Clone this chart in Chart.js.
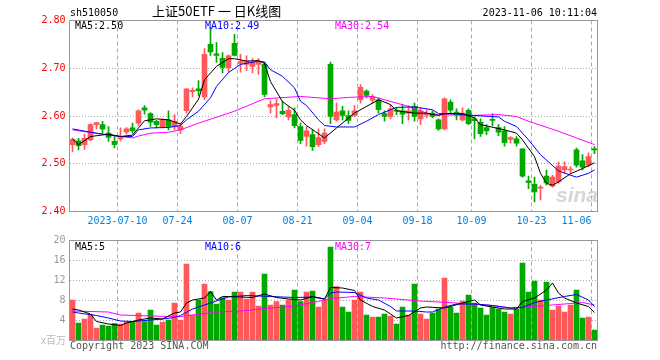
<!DOCTYPE html>
<html>
<head>
<meta charset="utf-8">
<script src="https://cdn.jsdelivr.net/npm/chart.js@4"></script>
<style>
  html, body { margin: 0; padding: 0; background: #fff; }
  #wrap { position: relative; width: 660px; height: 360px; overflow: hidden; }
  #k { position: absolute; left: 0; top: 0; }
  #v { position: absolute; left: 0; top: 230px; }
</style>
</head>
<body>
<div id="wrap">
  <canvas id="k" width="660" height="230"></canvas>
  <canvas id="v" width="660" height="130"></canvas>
</div>
<script>
// 交易日 (2023)
const dates = [
  "06-28","06-29","06-30","07-03","07-04","07-05","07-06","07-07","07-10","07-11",
  "07-12","07-13","07-14","07-17","07-18","07-19","07-20","07-21","07-24","07-25",
  "07-26","07-27","07-28","07-31","08-01","08-02","08-03","08-04","08-07","08-08",
  "08-09","08-10","08-11","08-14","08-15","08-16","08-17","08-18","08-21","08-22",
  "08-23","08-24","08-25","08-28","08-29","08-30","08-31","09-01","09-04","09-05",
  "09-06","09-07","09-08","09-11","09-12","09-13","09-14","09-15","09-18","09-19",
  "09-20","09-21","09-22","09-25","09-26","09-27","09-28","10-09","10-10","10-11",
  "10-12","10-13","10-16","10-17","10-18","10-19","10-20","10-23","10-24","10-25",
  "10-26","10-27","10-30","10-31","11-01","11-02","11-03","11-06"
];
const tickDates = ["07-10", "07-24", "08-07", "08-21", "09-04", "09-18", "10-09", "10-23", "11-06"];

const openP = [
  2.540,2.548,2.540,2.550,2.582,2.582,2.564,2.547,2.552,2.566,
  2.575,2.585,2.617,2.605,2.589,2.577,2.592,2.578,2.571,2.611,
  2.651,2.657,2.640,2.750,2.730,2.721,2.701,2.752,2.710,2.708,
  2.704,2.708,2.708,2.619,2.622,2.610,2.598,2.603,2.578,2.557,
  2.561,2.540,2.547,2.708,2.592,2.611,2.601,2.601,2.634,2.652,
  2.633,2.634,2.605,2.599,2.612,2.611,2.606,2.620,2.594,2.602,
  2.606,2.592,2.573,2.629,2.608,2.592,2.612,2.594,2.587,2.576,
  2.593,2.576,2.569,2.551,2.552,2.531,2.464,2.457,2.449,2.474,
  2.453,2.462,2.487,2.487,2.529,2.506,2.497,2.530
];
const highP = [
  2.554,2.553,2.562,2.584,2.587,2.589,2.578,2.557,2.575,2.576,
  2.585,2.613,2.622,2.607,2.591,2.594,2.611,2.603,2.585,2.657,
  2.659,2.674,2.741,2.785,2.754,2.733,2.728,2.771,2.729,2.726,
  2.720,2.720,2.713,2.632,2.635,2.631,2.619,2.617,2.585,2.578,
  2.571,2.573,2.573,2.713,2.627,2.620,2.611,2.622,2.666,2.655,
  2.645,2.638,2.611,2.624,2.618,2.624,2.622,2.627,2.617,2.613,
  2.611,2.594,2.638,2.634,2.615,2.617,2.615,2.599,2.594,2.582,
  2.605,2.582,2.578,2.557,2.557,2.531,2.474,2.472,2.455,2.487,
  2.476,2.504,2.504,2.494,2.533,2.519,2.523,2.536
];
const lowP = [
  2.525,2.529,2.530,2.548,2.573,2.564,2.547,2.533,2.548,2.562,
  2.564,2.580,2.604,2.578,2.575,2.575,2.571,2.571,2.563,2.606,
  2.640,2.643,2.634,2.727,2.712,2.690,2.692,2.726,2.692,2.695,
  2.690,2.687,2.640,2.606,2.596,2.603,2.592,2.575,2.542,2.537,
  2.528,2.536,2.542,2.584,2.589,2.592,2.584,2.599,2.627,2.638,
  2.626,2.606,2.589,2.594,2.603,2.584,2.592,2.589,2.582,2.596,
  2.596,2.570,2.571,2.606,2.592,2.589,2.582,2.552,2.557,2.561,
  2.580,2.559,2.537,2.543,2.537,2.472,2.448,2.420,2.424,2.455,
  2.451,2.459,2.480,2.479,2.493,2.487,2.494,2.521
];
const closeP = [
  2.551,2.538,2.553,2.582,2.586,2.573,2.555,2.540,2.555,2.573,
  2.569,2.611,2.612,2.587,2.582,2.592,2.578,2.589,2.578,2.657,
  2.654,2.653,2.729,2.734,2.727,2.702,2.726,2.727,2.714,2.715,
  2.713,2.713,2.645,2.624,2.626,2.605,2.612,2.580,2.549,2.569,
  2.536,2.555,2.564,2.599,2.608,2.601,2.591,2.611,2.660,2.643,
  2.640,2.613,2.599,2.615,2.610,2.604,2.611,2.599,2.611,2.605,
  2.599,2.573,2.636,2.612,2.603,2.606,2.584,2.590,2.563,2.569,
  2.591,2.566,2.544,2.555,2.543,2.474,2.461,2.441,2.451,2.460,
  2.472,2.495,2.494,2.489,2.497,2.493,2.515,2.529
];
// 成交量 (x百万)
const volume = [
  8.1,3.5,4.3,5.2,2.5,3.1,2.9,3.4,3.3,3.7,
  3.8,5.5,3.8,6.1,3.1,3.7,4.1,7.5,4.1,15.3,
  5.1,8.1,11.3,9.8,7.3,8.6,8.1,9.7,9.7,8.3,
  9.7,6.9,13.3,7.1,7.8,7.1,8.1,10.1,7.8,9.7,
  9.9,6.7,8.1,18.7,10.8,6.7,5.7,8.1,9.7,5.1,
  4.7,4.7,5.3,4.9,3.3,6.7,5.1,11.3,5.3,4.3,
  5.5,6.3,12.5,6.7,5.5,7.9,9.1,7.5,6.5,5.1,
  6.7,6.3,5.7,5.3,6.3,15.5,9.7,11.9,8.1,11.7,
  6.1,6.9,5.7,7.1,10.1,4.5,4.7,2.1
];

// 均线, [交易日序号, 值]
const ma5 = [[0,2.552],[1,2.540],[3,2.557],[6,2.562],[8,2.557],[10,2.560],[12,2.590],[14,2.594],[16,2.592],[18,2.583],
  [19,2.599],[21,2.635],[22,2.676],[24,2.704],[26,2.720],[27,2.720],[29,2.715],[31,2.716],[32,2.710],[33,2.672],
  [35,2.630],[37,2.612],[38,2.592],[39,2.580],[42,2.554],[44,2.575],[47,2.606],[50,2.627],[51,2.634],[53,2.624],
  [54,2.611],[57,2.606],[59,2.606],[61,2.601],[62,2.605],[65,2.605],[67,2.596],[68,2.582],[72,2.571],[74,2.564],
  [75,2.550],[77,2.515],[78,2.480],[79,2.459],[80,2.455],[81,2.462],[83,2.479],[85,2.490],[87,2.502]];
const ma10 = [[0,2.573],[3,2.566],[5,2.562],[8,2.557],[10,2.557],[11,2.571],[13,2.575],[16,2.576],[18,2.580],[19,2.592],
  [21,2.610],[23,2.638],[24,2.662],[26,2.691],[28,2.708],[31,2.715],[32,2.713],[33,2.697],[35,2.683],[37,2.659],
  [38,2.631],[39,2.622],[41,2.592],[42,2.580],[44,2.577],[47,2.577],[49,2.589],[51,2.603],[53,2.613],[54,2.618],
  [57,2.619],[60,2.613],[61,2.605],[63,2.605],[67,2.601],[71,2.598],[72,2.589],[74,2.578],[76,2.550],[78,2.519],
  [81,2.485],[83,2.476],[84,2.472],[86,2.480],[87,2.487]];
const ma30 = [[0,2.571],[5,2.562],[10,2.554],[11,2.558],[13,2.564],[16,2.566],[18,2.571],[21,2.585],[27,2.610],[31,2.631],
  [32,2.636],[38,2.641],[43,2.636],[46,2.639],[50,2.641],[52,2.634],[56,2.620],[59,2.606],[61,2.603],[66,2.601],
  [71,2.603],[74,2.599],[76,2.589],[81,2.568],[84,2.554],[87,2.540]];
const volMa5 = [[0,6.3],[1,6.1],[3,5.3],[4,3.8],[6,3.3],[8,3.0],[9,3.5],[11,4.1],[13,4.5],[15,4.3],
  [17,5.5],[18,5.7],[19,7.5],[20,8.1],[22,8.5],[23,9.8],[24,8.1],[25,8.8],[26,8.8],[28,8.7],
  [30,8.6],[32,9.3],[34,8.6],[36,8.3],[38,8.1],[40,8.8],[42,8.3],[43,10.6],[45,10.5],[47,10.0],
  [48,8.1],[50,6.8],[52,6.1],[54,4.5],[56,5.0],[58,6.5],[59,6.7],[62,6.5],[63,6.8],[65,7.5],
  [67,8.1],[68,7.1],[70,6.7],[72,6.3],[74,6.3],[75,7.8],[77,8.5],[79,10.1],[80,11.5],[81,9.5],
  [82,8.5],[84,7.5],[86,6.8],[87,5.6]];
const volMa10 = [[0,5.7],[1,5.5],[4,5.0],[6,4.5],[8,3.9],[10,3.8],[13,4.1],[15,4.3],[17,4.6],[18,5.0],
  [20,6.3],[23,7.5],[25,8.3],[26,8.7],[29,9.0],[33,8.8],[37,8.6],[40,8.7],[42,8.3],[43,9.5],
  [44,9.7],[47,9.6],[49,8.5],[51,8.1],[53,6.8],[54,5.9],[57,5.9],[59,5.7],[60,5.7],[62,6.7],
  [64,7.3],[67,7.3],[70,7.0],[73,6.5],[75,6.6],[77,7.6],[79,8.1],[82,8.8],[84,9.2],[86,8.1],[87,6.8]];
const volMa30 = [[0,5.9],[6,5.7],[8,5.1],[16,4.8],[18,4.8],[20,5.1],[24,5.7],[28,5.9],[33,6.5],[37,6.9],
  [41,7.8],[43,8.4],[47,8.8],[52,8.5],[58,7.9],[64,7.5],[70,7.0],[73,6.5],[78,6.9],[82,7.3],[85,7.6],[87,7.1]];

const maText = ["MA5:2.50", "MA10:2.49", "MA30:2.54"];
const volMaText = ["MA5:5", "MA10:6", "MA30:7"];

const RED = "#ff5858";
const GREEN = "#00a800";
const MONO = "'DejaVu Sans Mono', monospace";
const CJK = "'Noto Sans CJK SC', sans-serif";

const candleColors = openP.map((o, i) => (closeP[i] >= o ? RED : GREEN));
const wicks = lowP.map((l, i) => [l, highP[i]]);
const bodies = openP.map((o, i) => [o, closeP[i]]);
// 类目轴要用日期字符串定位
const pts = (arr) => arr.map((p) => ({ x: dates[p[0]], y: p[1] }));

function maLine(arr, color) {
  return {
    type: "line",
    data: pts(arr),
    borderColor: color,
    borderWidth: 1,
    pointRadius: 0,
    tension: 0,
    fill: false,
    spanGaps: true,
    order: 0,
  };
}

// 方框, 文字
const frame = {
  id: "frame",
  beforeDatasetsDraw(chart, args, opts) {
    if (!opts.watermark) return;
    const ctx = chart.ctx;
    ctx.save();
    ctx.font = "italic bold 21px 'Liberation Sans', sans-serif";
    ctx.fillStyle = "rgba(200,200,200,0.75)";
    ctx.textAlign = "right";
    ctx.textBaseline = "middle";
    ctx.fillText("sina", 598, 196);
    ctx.restore();
  },
  afterDraw(chart, args, opts) {
    const { ctx, chartArea: a } = chart;
    ctx.save();
    ctx.strokeStyle = "#999";
    ctx.lineWidth = 1;
    ctx.strokeRect(a.left, a.top, a.right - a.left, a.bottom - a.top);
    (opts.texts || []).forEach((t) => {
      ctx.font = t.font || "10px " + MONO;
      ctx.fillStyle = t.color || "#000";
      ctx.textAlign = t.align || "left";
      ctx.textBaseline = "middle";
      ctx.fillText(t.text, t.x, t.y);
    });
    ctx.restore();
  },
};

function xScale(showLabels, height) {
  return {
    offset: true,
    grid: {
      offset: true,
      drawTicks: false,
      color: (c) => (tickDates.includes(dates[c.index]) ? "#aaa" : "rgba(0,0,0,0)"),
    },
    border: { display: false, dash: [4, 3] },
    ticks: {
      display: showLabels,
      autoSkip: false,
      maxRotation: 0,
      padding: 4,
      labelOffset: -3,
      color: "#0080e0",
      font: { family: MONO, size: 10 },
      callback: (v, i) => {
        const d = dates[i];
        if (!tickDates.includes(d)) return "";
        if (d === tickDates[0]) return "2023-" + d;
        if (d === tickDates[tickDates.length - 1]) return d + "     ";
        return d;
      },
    },
    afterFit: (s) => { s.height = height; },
  };
}

new Chart(document.getElementById("k"), {
  type: "bar",
  data: {
    labels: dates,
    datasets: [
      maLine(ma5, "#000000"),
      maLine(ma10, "#0000ff"),
      maLine(ma30, "#ff00ff"),
      { data: bodies, backgroundColor: candleColors, barThickness: 5, minBarLength: 1, grouped: false, order: 1 },
      { data: wicks, backgroundColor: candleColors, barThickness: 1, grouped: false, order: 2 },
    ],
  },
  options: {
    responsive: false,
    animation: false,
    events: [],
    layout: { padding: { left: 0, right: 62.5, top: 20.5, bottom: 0 } },
    plugins: {
      legend: { display: false },
      tooltip: { enabled: false },
      frame: {
        watermark: true,
        texts: [
          { text: "sh510050", x: 70, y: 13 },
          { text: "上证50ETF 一 日K线图", x: 152, y: 11, font: "13px " + CJK },
          { text: "2023-11-06 10:11:04", x: 597, y: 13, align: "right" },
          { text: maText[0], x: 75, y: 26, color: "#000" },
          { text: maText[1], x: 205, y: 26, color: "#0000ff" },
          { text: maText[2], x: 335, y: 26, color: "#ff00ff" },
        ],
      },
    },
    scales: {
      x: xScale(true, 18.5),
      y: {
        min: 2.4,
        max: 2.8,
        grid: {
          drawTicks: false,
          color: (c) => (Math.abs(c.tick.value - 2.4) < 1e-6 || Math.abs(c.tick.value - 2.8) < 1e-6 ? "rgba(0,0,0,0)" : "#aaa"),
        },
        border: { display: false, dash: [1, 2] },
        ticks: {
          stepSize: 0.1,
          padding: 4,
          color: "#ff0000",
          font: { family: MONO, size: 10 },
          callback: (v) => v.toFixed(2),
        },
        afterFit: (s) => { s.width = 69.5; },
      },
    },
  },
  plugins: [frame],
});

new Chart(document.getElementById("v"), {
  type: "bar",
  data: {
    labels: dates,
    datasets: [
      maLine(volMa5, "#000000"),
      maLine(volMa10, "#0000ff"),
      maLine(volMa30, "#ff00ff"),
      { data: volume, backgroundColor: candleColors, barThickness: 5, grouped: false, order: 1 },
    ],
  },
  options: {
    responsive: false,
    animation: false,
    events: [],
    layout: { padding: { left: 0, right: 62.5, top: 10.5, bottom: 19.5 } },
    plugins: {
      legend: { display: false },
      tooltip: { enabled: false },
      frame: {
        texts: [
          { text: volMaText[0], x: 75, y: 17, color: "#000" },
          { text: volMaText[1], x: 205, y: 17, color: "#0000ff" },
          { text: volMaText[2], x: 335, y: 17, color: "#ff00ff" },
          { text: "x百万", x: 66, y: 110, align: "right", color: "#bbb", font: "10px " + CJK },
          { text: "Copyright 2023 SINA.COM", x: 70, y: 116, color: "#555" },
          { text: "http://finance.sina.com.cn", x: 597, y: 116, align: "right", color: "#555" },
        ],
      },
    },
    scales: {
      x: xScale(false, 0),
      y: {
        min: 0,
        max: 20,
        grid: {
          drawTicks: false,
          color: (c) => (c.tick.value === 0 || c.tick.value === 20 ? "rgba(0,0,0,0)" : "#aaa"),
        },
        border: { display: false, dash: [1, 2] },
        ticks: {
          stepSize: 4,
          padding: 4,
          color: "#999",
          font: { family: MONO, size: 10 },
          callback: (v) => (v === 0 ? "" : v),
        },
        afterFit: (s) => { s.width = 69.5; },
      },
    },
  },
  plugins: [frame],
});
</script>
</body>
</html>
